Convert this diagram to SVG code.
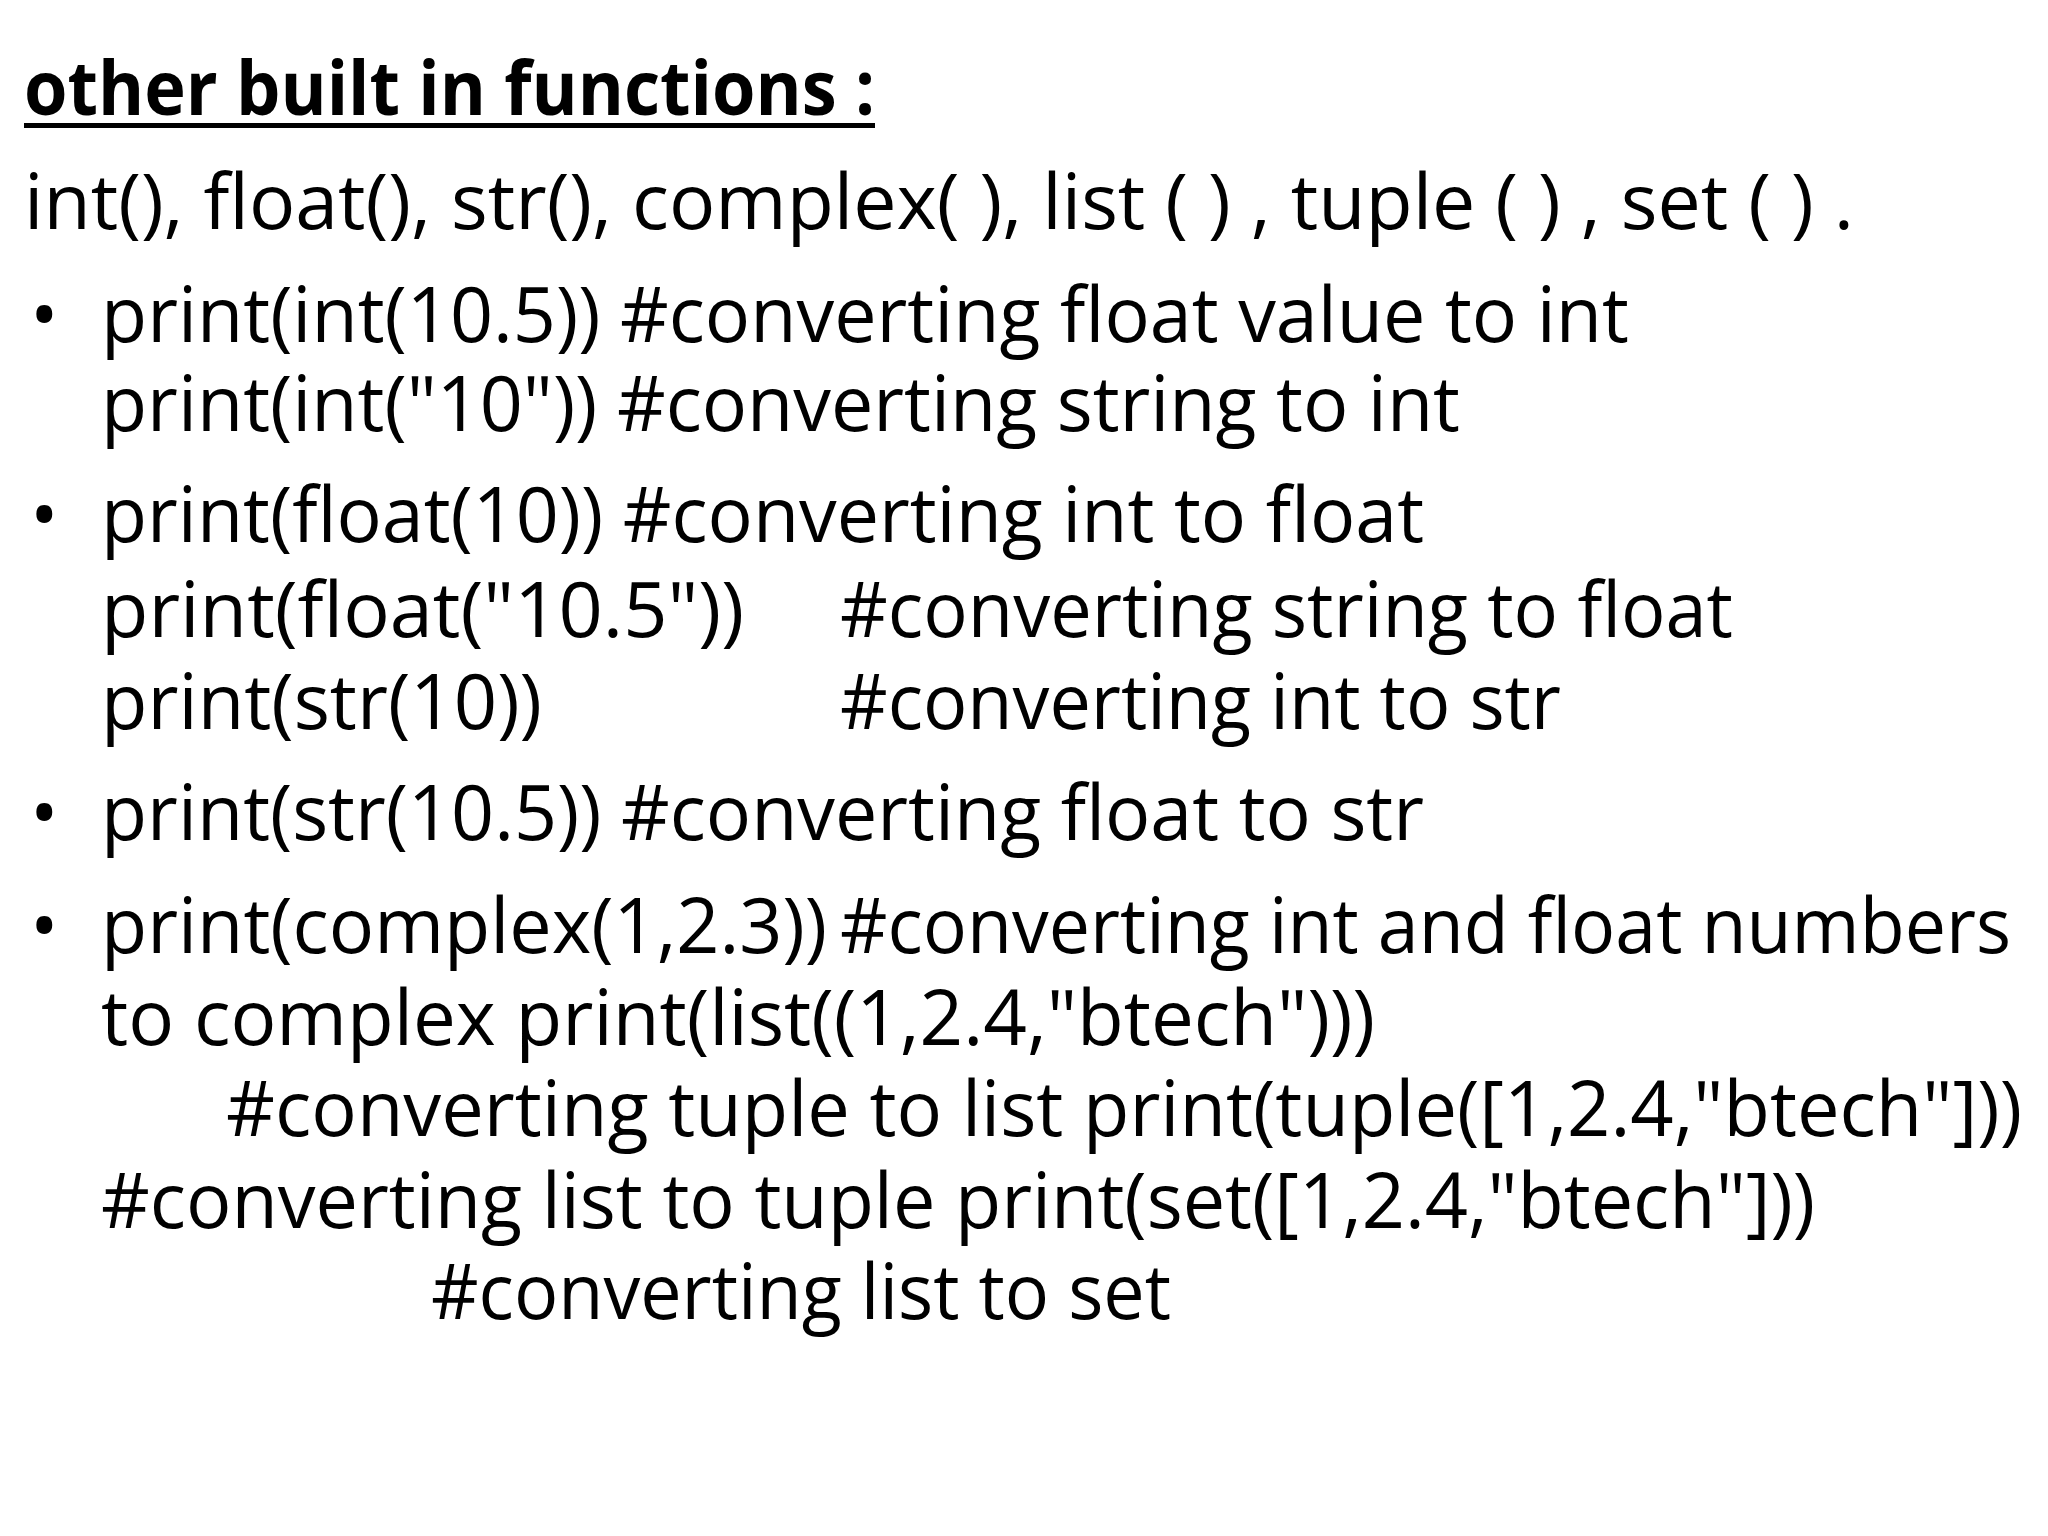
<svg xmlns="http://www.w3.org/2000/svg" width="2048" height="1536" viewBox="0 0 2048 1536">
<style>
text{font-family:"Open Sans","Liberation Sans",sans-serif;font-size:76px;fill:#000}
.b{font-weight:bold}
</style>
<rect width="2048" height="1536" fill="#fff"/>
<g id="title">
<text class="b" x="24" y="115" textLength="851" lengthAdjust="spacingAndGlyphs">other built in functions :</text>
<rect x="24" y="123" width="851" height="5" fill="#000"/>
</g>
<g id="body">
<text x="24" y="229" textLength="1830" lengthAdjust="spacingAndGlyphs">int(), float(), str(), complex( ), list ( ) , tuple ( ) , set ( ) .</text>
<text x="30" y="342">•</text>
<text x="101" y="342" textLength="1528" lengthAdjust="spacingAndGlyphs">print(int(10.5)) #converting float value to int</text>
<text x="101" y="431" textLength="1359" lengthAdjust="spacingAndGlyphs">print(int("10")) #converting string to int</text>
<text x="30" y="542">•</text>
<text x="101" y="542" textLength="1323" lengthAdjust="spacingAndGlyphs">print(float(10)) #converting int to float</text>
<text x="101" y="637" textLength="643" lengthAdjust="spacingAndGlyphs">print(float("10.5"))</text>
<text x="840" y="637" textLength="893" lengthAdjust="spacingAndGlyphs">#converting string to float</text>
<text x="101" y="729" textLength="441" lengthAdjust="spacingAndGlyphs">print(str(10))</text>
<text x="840" y="729" textLength="721" lengthAdjust="spacingAndGlyphs">#converting int to str</text>
<text x="30" y="840">•</text>
<text x="101" y="840" textLength="1323" lengthAdjust="spacingAndGlyphs">print(str(10.5)) #converting float to str</text>
<text x="30" y="953">•</text>
<text x="101" y="953" textLength="726" lengthAdjust="spacingAndGlyphs">print(complex(1,2.3))</text>
<text x="840" y="953" textLength="1171" lengthAdjust="spacingAndGlyphs">#converting int and float numbers</text>
<text x="101" y="1045" textLength="1274" lengthAdjust="spacingAndGlyphs">to complex print(list((1,2.4,"btech")))</text>
<text x="226" y="1136" textLength="1796" lengthAdjust="spacingAndGlyphs">#converting tuple to list print(tuple([1,2.4,"btech"]))</text>
<text x="101" y="1228" textLength="1714" lengthAdjust="spacingAndGlyphs">#converting list to tuple print(set([1,2.4,"btech"]))</text>
<text x="431" y="1319" textLength="740" lengthAdjust="spacingAndGlyphs">#converting list to set</text>
</g>
</svg>
